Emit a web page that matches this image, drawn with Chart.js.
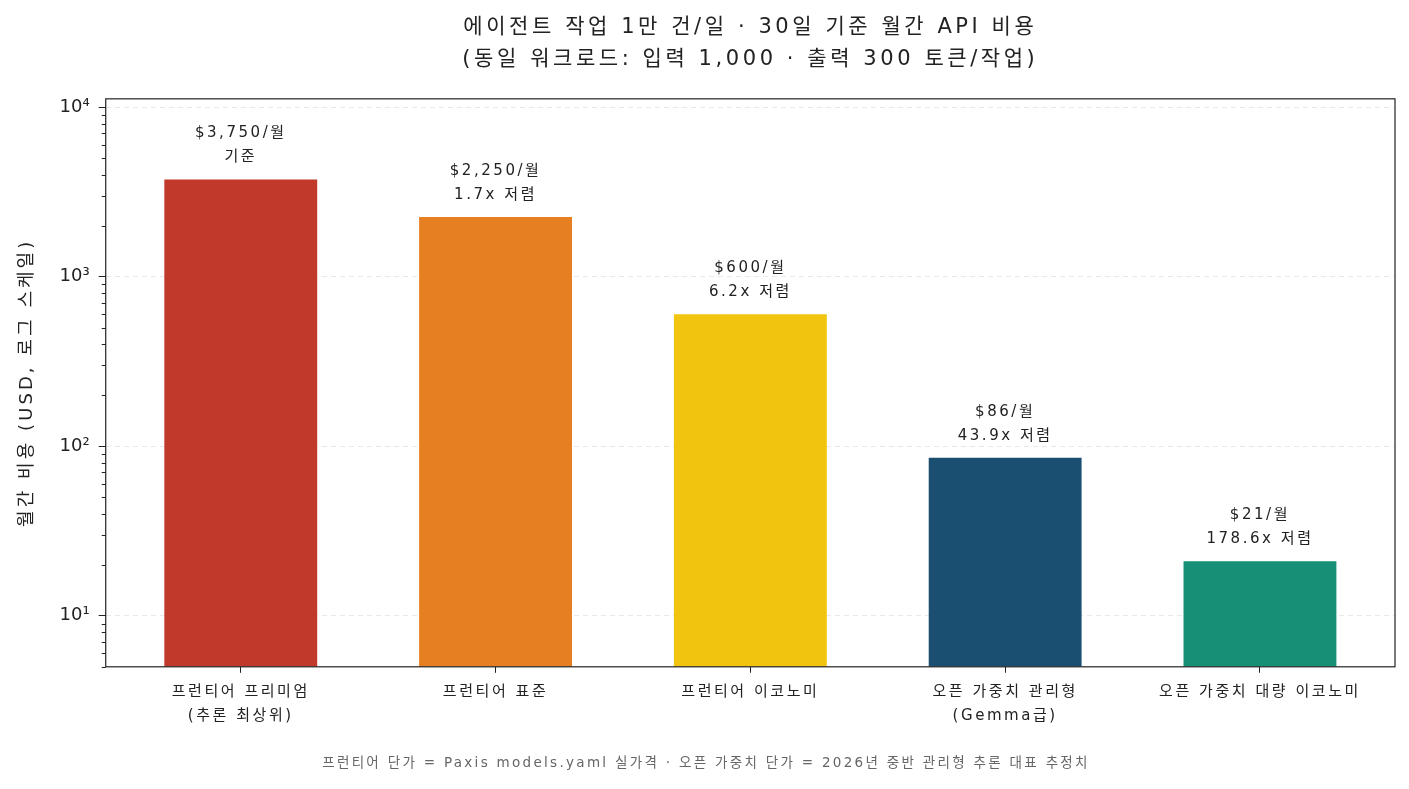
<!DOCTYPE html>
<html lang="ko">
<head>
<meta charset="utf-8">
<script src="https://cdn.jsdelivr.net/npm/chart.js@4/dist/chart.umd.min.js"></script>
<style>
  html, body { margin: 0; padding: 0; background: #fff; }
  #wrap { width: 1409px; height: 789px; }
</style>
</head>
<body>
<div id="wrap"><canvas id="chart"></canvas></div>
<script>
/* 데이터 */
const categories = [
  ['프런티어 프리미엄', '(추론 최상위)'],
  '프런티어 표준',
  '프런티어 이코노미',
  ['오픈 가중치 관리형', '(Gemma급)'],
  '오픈 가중치 대량 이코노미'
];
const monthlyCost = [3750, 2250, 600, 85.4, 21];
const priceLabels = ['$3,750/월', '$2,250/월', '$600/월', '$86/월', '$21/월'];
const ratioLabels = ['기준', '1.7x 저렴', '6.2x 저렴', '43.9x 저렴', '178.6x 저렴'];
const barColors = ['#c0392b', '#e67e22', '#f1c40f', '#1b4f72', '#168f76'];
const majorTicks = [10, 100, 1000, 10000];
const tickLabels = ['10¹', '10²', '10³', '10⁴'];

const FONT = '"DejaVu Sans", "Noto Sans CJK KR", sans-serif';
const INK = '#222';
const LETTER_SPACING = 0.17; // em, 원본 글꼴이 넓어서 자간으로 맞춤

// 로그 축 보조 눈금 (2..9 x 10^n)
const allTicks = [];
for (let p = 0; p <= 3; p++) {
  for (let m = 1; m <= 9; m++) {
    const v = m * Math.pow(10, p);
    if (v >= 5) allTicks.push(v);
  }
}
allTicks.push(10000);
const isMajor = v => majorTicks.includes(v);

const canvas = document.getElementById('chart');
const ctx = canvas.getContext('2d');

// 글자 크기에 비례한 자간 적용 (축 눈금 숫자는 제외)
function applySpacing(c, text) {
  if (tickLabels.includes(text)) { c.letterSpacing = '0px'; return; }
  const m = /(\d+(?:\.\d+)?)px/.exec(c.font);
  const size = m ? parseFloat(m[1]) : 12;
  c.letterSpacing = (size * LETTER_SPACING).toFixed(2) + 'px';
}
const rawFill = ctx.fillText;
const rawMeasure = ctx.measureText;
ctx.fillText = function (...args) { applySpacing(this, args[0]); return rawFill.apply(this, args); };
ctx.measureText = function (...args) { applySpacing(this, args[0]); return rawMeasure.apply(this, args); };

// 막대 위 라벨
const barLabels = {
  id: 'barLabels',
  afterDatasetsDraw(chart) {
    const c = chart.ctx;
    const meta = chart.getDatasetMeta(0);
    c.save();
    c.fillStyle = INK;
    c.font = '15px ' + FONT;
    c.textAlign = 'center';
    c.textBaseline = 'middle';
    meta.data.forEach((bar, i) => {
      c.fillText(priceLabels[i], bar.x, bar.y - 46);
      c.fillText(ratioLabels[i], bar.x, bar.y - 22);
    });
    c.restore();
  }
};

// 테두리 + 보조 눈금
const frame = {
  id: 'frame',
  afterDraw(chart) {
    const { ctx: c, chartArea: a } = chart;
    const y = chart.scales.y;
    c.save();
    c.strokeStyle = INK;
    c.lineWidth = 1.2;
    c.strokeRect(a.left, a.top, a.right - a.left, a.bottom - a.top);
    c.lineWidth = 1;
    allTicks.filter(v => !isMajor(v)).forEach(v => {
      const py = Math.round(y.getPixelForValue(v)) + 0.5;
      c.beginPath();
      c.moveTo(a.left - 4, py);
      c.lineTo(a.left, py);
      c.stroke();
    });
    c.restore();
  }
};

new Chart(ctx, {
  type: 'bar',
  data: {
    datasets: [{
      data: monthlyCost.map((v, i) => ({ x: i, y: v })),
      backgroundColor: barColors,
      borderWidth: 0,
      barPercentage: 0.6,
      categoryPercentage: 1
    }]
  },
  options: {
    responsive: true,
    maintainAspectRatio: false,
    animation: false,
    layout: { padding: { left: 17, right: 14, top: 4, bottom: 13 } },
    plugins: {
      legend: { display: false },
      tooltip: { enabled: false },
      title: {
        display: true,
        fullSize: false,
        text: ['에이전트 작업 1만 건/일 · 30일 기준 월간 API 비용', '(동일 워크로드: 입력 1,000 · 출력 300 토큰/작업)'],
        color: INK,
        font: { family: FONT, size: 21, weight: 'normal', lineHeight: 1.52 },
        padding: { top: 8, bottom: 23 }
      },
      subtitle: {
        display: true,
        position: 'bottom',
        text: '프런티어 단가 = Paxis models.yaml 실가격 · 오픈 가중치 단가 = 2026년 중반 관리형 추론 대표 추정치',
        color: '#666',
        font: { family: FONT, size: 13.5 },
        padding: { top: 21, bottom: 4 }
      }
    },
    scales: {
      x: {
        type: 'linear',
        min: -0.53,
        max: 4.53,
        offset: false,
        afterBuildTicks: scale => {
          scale.ticks = categories.map((_, i) => ({ value: i }));
        },
        grid: {
          offset: false,
          drawOnChartArea: false,
          drawTicks: true,
          tickLength: 6,
          tickColor: INK
        },
        border: { display: false },
        ticks: {
          autoSkip: false,
          maxRotation: 0,
          color: INK,
          font: { family: FONT, size: 15, lineHeight: 1.6 },
          padding: 7,
          callback: v => categories[v]
        }
      },
      y: {
        type: 'logarithmic',
        min: 5,
        max: 11200,
        afterBuildTicks: scale => {
          scale.ticks = allTicks.map(v => ({ value: v, major: isMajor(v) }));
        },
        ticks: {
          autoSkip: false,
          color: INK,
          font: { family: FONT, size: 18 },
          padding: 9,
          callback: v => {
            const i = majorTicks.indexOf(v);
            return i >= 0 ? tickLabels[i] : '';
          }
        },
        grid: {
          color: c => (c.tick && isMajor(c.tick.value)) ? '#e8e8e8' : 'rgba(0,0,0,0)',
          tickColor: c => (c.tick && isMajor(c.tick.value)) ? INK : 'rgba(0,0,0,0)',
          tickLength: 7,
          lineWidth: 1
        },
        border: { display: false, dash: [5, 4] },
        title: {
          display: true,
          text: '월간 비용 (USD, 로그 스케일)',
          color: INK,
          font: { family: FONT, size: 18 },
          padding: { top: 0, bottom: 12 }
        }
      }
    }
  },
  plugins: [barLabels, frame]
});
</script>
</body>
</html>
